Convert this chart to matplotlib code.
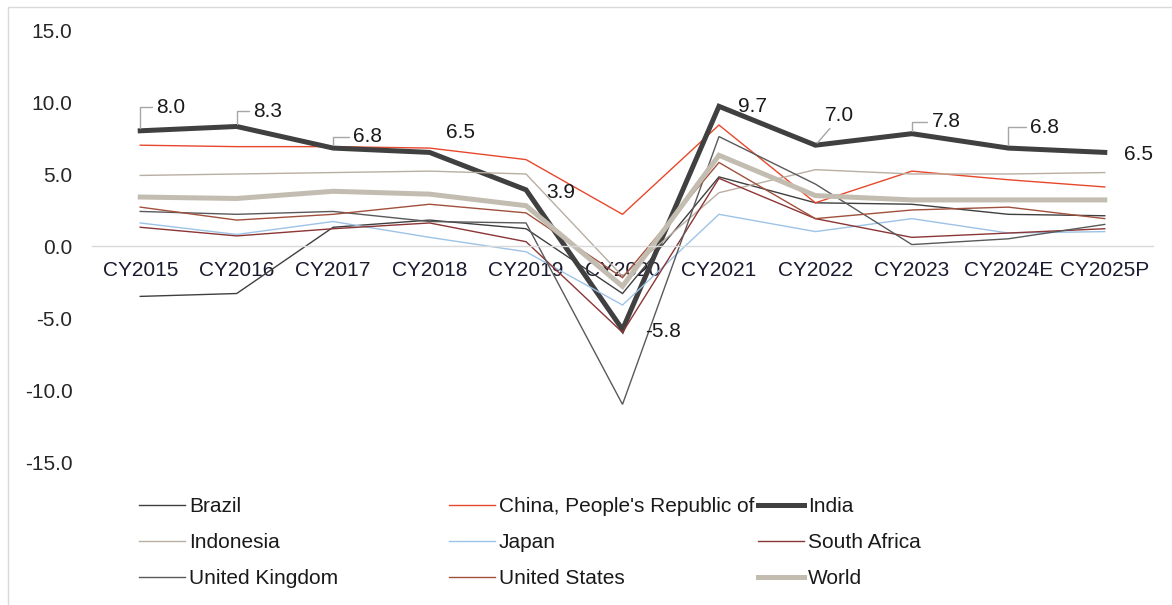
import matplotlib
matplotlib.use("Agg")
import matplotlib.pyplot as plt
from matplotlib.patches import Rectangle

plt.rcParams['font.family'] = ['Liberation Sans', 'DejaVu Sans']

years = ['CY2015', 'CY2016', 'CY2017', 'CY2018', 'CY2019', 'CY2020',
         'CY2021', 'CY2022', 'CY2023', 'CY2024E', 'CY2025P']

brazil = [-3.5, -3.3, 1.3, 1.8, 1.2, -3.3, 4.8, 3.0, 2.9, 2.2, 2.1]
china = [7.0, 6.9, 6.9, 6.8, 6.0, 2.2, 8.4, 3.0, 5.2, 4.6, 4.1]
india = [8.0, 8.3, 6.8, 6.5, 3.9, -5.8, 9.7, 7.0, 7.8, 6.8, 6.5]
indonesia = [4.9, 5.0, 5.1, 5.2, 5.0, -2.1, 3.7, 5.3, 5.0, 5.0, 5.1]
japan = [1.6, 0.8, 1.7, 0.6, -0.4, -4.1, 2.2, 1.0, 1.9, 0.9, 1.0]
south_africa = [1.3, 0.7, 1.2, 1.6, 0.3, -6.0, 4.7, 1.9, 0.6, 0.9, 1.2]
uk = [2.4, 2.2, 2.4, 1.7, 1.6, -11.0, 7.6, 4.3, 0.1, 0.5, 1.5]
us = [2.7, 1.8, 2.2, 2.9, 2.3, -2.2, 5.8, 1.9, 2.5, 2.7, 1.9]
world = [3.4, 3.3, 3.8, 3.6, 2.8, -2.8, 6.3, 3.5, 3.2, 3.2, 3.2]

series_names = ['Brazil', "China, People's Republic of", 'India', 'Indonesia', 'Japan',
                'South Africa', 'United Kingdom', 'United States', 'World']
series_values = [brazil, china, india, indonesia, japan, south_africa, uk, us, world]
colors = ['#3f3f3f', '#e8472c', '#404040', '#b9aea2', '#9dc3e6',
          '#8b3535', '#595959', '#a0503c', '#c3bcb0']
widths = [1.0, 1.0, 3.6, 1.0, 1.0, 1.0, 1.0, 1.0, 3.6]

fig = plt.figure(figsize=(11.72, 6.05), dpi=100)
ax = fig.add_axes([92 / 1172, 1 - 462 / 605, (1153 - 92) / 1172, (462 - 30) / 605])

x = list(range(len(years)))
lines = []
for name, vals, c, lw in zip(series_names, series_values, colors, widths):
    ln, = ax.plot(x, vals, color=c, lw=lw, label=name, solid_joinstyle='miter')
    lines.append(ln)

ax.set_xlim(-0.5, len(years) - 0.5)
ax.set_ylim(-15, 15)
ax.set_yticks([15, 10, 5, 0, -5, -10, -15])
ax.set_yticklabels(['%.1f' % v for v in [15, 10, 5, 0, -5, -10, -15]])
ax.set_xticks(x)
ax.set_xticklabels(years)

for s in ['top', 'right', 'left']:
    ax.spines[s].set_visible(False)
ax.spines['bottom'].set_position(('data', 0))
ax.spines['bottom'].set_color('#d9d9d9')
ax.spines['bottom'].set_linewidth(1.0)
ax.tick_params(axis='x', length=0, pad=11, labelsize=15, labelcolor='#1a1a2e')
ax.tick_params(axis='y', length=0, pad=14, labelsize=15, labelcolor='#262626')

# India data labels (offsets in points, leader flag)
label_offsets = [(22, 17, 'angle'), (22, 11, 'angle'), (25, 8, 'angle'), (22, 14, None),
                 (25, -2, None), (29, -1.5, None), (24.5, 0, None), (17, 21.6, 'straight'),
                 (24.5, 8.6, 'angle'), (26, 15, 'angle'), (24.5, -1.5, None)]
for i, (v, (dx, dy, leader)) in enumerate(zip(india, label_offsets)):
    props = None
    if leader == 'angle':
        props = dict(arrowstyle='-', color='#a6a6a6', lw=1.0, shrinkA=1, shrinkB=2,
                     relpos=(0, 0.5),
                     connectionstyle='angle,angleA=0,angleB=90,rad=0')
    elif leader == 'straight':
        props = dict(arrowstyle='-', color='#a6a6a6', lw=1.0, shrinkA=1, shrinkB=2,
                     relpos=(0.3, 0))
    ax.annotate('%.1f' % v, xy=(i, v), xytext=(dx, dy), textcoords='offset points',
                ha='center', va='center', fontsize=15, color='#1a1a1a',
                arrowprops=props)

# legend in three columns, like the Excel layout
col_x = [139, 449, 758]
for col in range(3):
    handles = [lines[r * 3 + col] for r in range(3)]
    leg = fig.legend(handles=handles, loc='upper left',
                     bbox_to_anchor=(col_x[col] / 1172, 1 - 497 / 605),
                     frameon=False, fontsize=15, handlelength=2.2, handletextpad=0.2,
                     labelspacing=0.82, borderpad=0, borderaxespad=0)
    for t in leg.get_texts():
        t.set_color('#1a1a1a')

fig.add_artist(Rectangle((8 / 1172, -0.05), 1.0, 1 - 7 / 605 + 0.05,
                         transform=fig.transFigure, fill=False,
                         edgecolor='#d9d9d9', lw=1.0))

fig.savefig('out.png', dpi=100)
